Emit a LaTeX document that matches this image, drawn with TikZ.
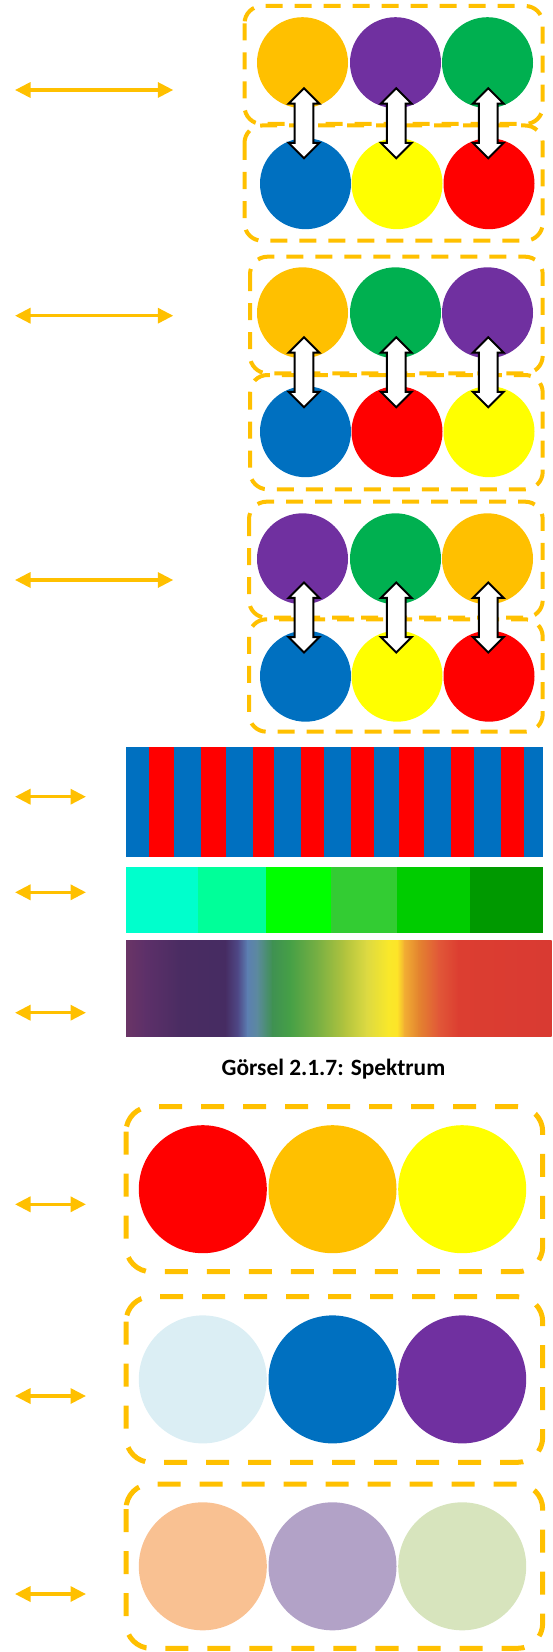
\documentclass[tikz,border=0pt]{standalone}
\usepackage{fontspec}
\newfontfamily\capfont{Carlito}
\usetikzlibrary{positioning,calc,shapes.arrows,arrows.meta}

\definecolor{cOrange}{HTML}{FFC000}
\definecolor{cPurple}{HTML}{7030A0}
\definecolor{cGreen}{HTML}{00B050}
\definecolor{cBlue}{HTML}{0070C0}
\definecolor{cYellow}{HTML}{FFFF00}
\definecolor{cRed}{HTML}{FF0000}
\definecolor{cIce}{HTML}{DBEEF4}
\definecolor{cPeach}{HTML}{F9C192}
\definecolor{cLilac}{HTML}{B2A2C7}
\definecolor{cSage}{HTML}{D7E4BD}
% green steps
\definecolor{gA}{HTML}{00FFCC}
\definecolor{gB}{HTML}{00FF99}
\definecolor{gC}{HTML}{00FF00}
\definecolor{gD}{HTML}{33CC33}
\definecolor{gE}{HTML}{00CC00}
\definecolor{gF}{HTML}{009900}
% spectrum stops
\definecolor{sp1}{HTML}{6A3566}
\definecolor{sp2}{HTML}{5D3069}
\definecolor{sp3}{HTML}{4A2C62}
\definecolor{sp4}{HTML}{462C62}
\definecolor{sp5}{HTML}{4F4A88}
\definecolor{sp6}{HTML}{5C7FB2}
\definecolor{sp7}{HTML}{5C8A9E}
\definecolor{sp8}{HTML}{3F9152}
\definecolor{sp9}{HTML}{46A046}
\definecolor{sp10}{HTML}{79B043}
\definecolor{sp11}{HTML}{B3C43E}
\definecolor{sp12}{HTML}{DCD942}
\definecolor{sp13}{HTML}{F9E82A}
\definecolor{sp14}{HTML}{FDE428}
\definecolor{sp15}{HTML}{F2AE33}
\definecolor{sp16}{HTML}{E4852F}
\definecolor{sp17}{HTML}{E15838}
\definecolor{sp18}{HTML}{DC3E31}
\definecolor{sp19}{HTML}{D93A32}

\tikzset{
  ball/.style={circle, fill=#1, draw=none, inner sep=0pt, minimum size=18.2mm},
  bigball/.style={circle, fill=#1, draw=none, inner sep=0pt, minimum size=25.6mm},
  swapbox/.style={draw=cOrange, line width=0.8mm, dash pattern=on 3.4mm off 2.4mm, rounded corners=3.5mm},
  setbox/.style={draw=cOrange, line width=1mm, dash pattern=on 4.6mm off 3.8mm, rounded corners=5mm},
  swaparrow/.style={double arrow, rotate=90, draw=black, fill=white, line width=0.4mm,
    inner xsep=0pt, inner ysep=1.67mm, minimum height=14mm, double arrow head extend=1.2mm},
  pairarrow/.style={cOrange, line width=0.66mm,
    {Triangle[length=3.1mm,width=3mm]}-{Triangle[length=3.1mm,width=3mm]}},
}

\begin{document}
\begin{tikzpicture}[x=0.2mm, y=-0.2mm]
    \useasboundingbox (0,0) rectangle (552,1652);

    % swapped pairs
    \foreach \g/\yt/\yb/\ba/\bm/\bn/\bb/\bl/\ta/\tb/\tc/\ua/\ub/\uc in {
      1/62.7/183.7/6/124/125.5/240.7/244.5/cOrange/cPurple/cGreen/cBlue/cYellow/cRed,
      2/312.8/431.7/256.7/373.3/375/489.3/250/cOrange/cGreen/cPurple/cBlue/cRed/cYellow,
      3/558.8/676.2/501.7/617.7/619.3/731.7/249/cPurple/cGreen/cOrange/cBlue/cYellow/cRed}{
      \draw[swapbox] (\bl,\ba) rectangle (542.7,\bm);
      \draw[swapbox] (\bl,\bn) rectangle (542.7,\bb);
      \node[ball=\ta] (t\g-1) at (302.5,\yt) {};
      \node[ball=\tb] (t\g-2) at (395.5,\yt) {};
      \node[ball=\tc] (t\g-3) at (487.5,\yt) {};
      \node[ball=\ua] (b\g-1) at (305.5,\yb) {};
      \node[ball=\ub] (b\g-2) at (397,\yb) {};
      \node[ball=\uc] (b\g-3) at (489,\yb) {};
      \foreach \k in {1,2,3}
        \node[swaparrow] (s\g-\k) at ($(t\g-\k)!0.5!(b\g-\k)$) {};
    }

    % long arrows
    \foreach \y [count=\i] in {90,315.7,580}{
      \coordinate (la\i) at (15,\y);
      \coordinate (lb\i) at (173.3,\y);
      \draw[pairarrow] (la\i) -- (lb\i);
    }
    % short arrows
    \foreach \y [count=\i] in {796.7,892.3,1012.7,1204.3,1396,1594}{
      \coordinate (sa\i) at (15,\y);
      \coordinate (sb\i) at (86,\y);
      \draw[pairarrow] (sa\i) -- (sb\i);
    }

    % stripes
    \fill[cBlue] (125.7,747.3) rectangle (543.3,857.3);
    \foreach \xa/\xb in {149/173.7,200.7/225.7,252.7/273.7,300.7/323.7,350.7/373.7,399/424,450.7/474,501/524}
      \fill[cRed] (\xa,747.3) rectangle (\xb,857.3);

    % green steps
    \foreach \xa/\xb/\cc in {125.7/198/gA,198/266/gB,266/331.3/gC,331.3/397.3/gD,397.3/470/gE,470/543.3/gF}
      \fill[\cc] (\xa,867.3) rectangle (\xb,932.7);

    % spectrum
    \foreach \xa/\xb/\ca/\cb in {126/145/sp1/sp2,145/180/sp2/sp3,180/225/sp3/sp4,225/238/sp4/sp5,
      238/247/sp5/sp6,247/257/sp6/sp7,257/272/sp7/sp8,272/290/sp8/sp9,290/318/sp9/sp10,
      318/345/sp10/sp11,345/366/sp11/sp12,366/388/sp12/sp13,388/397/sp13/sp14,397/404/sp14/sp15,
      404/418/sp15/sp16,418/438/sp16/sp17,438/458/sp17/sp18,458/551/sp18/sp19}
      \shade[left color=\ca, right color=\cb] (\xa,940) rectangle ($(\xb,1036.7)+(0.6,0)$);

    \node[font=\capfont\bfseries\fontsize{13.3}{16}\selectfont, anchor=base, inner sep=0pt]
      (caption) at (333.5,1075) {Görsel 2.1.7: Spektrum};

    % colour sets
    \foreach \g/\yc/\ba/\bb/\ca/\cb/\cc in {
      1/1189.2/1106.7/1271.7/cRed/cOrange/cYellow,
      2/1379.4/1296.7/1462.3/cIce/cBlue/cPurple,
      3/1566.3/1484/1648.3/cPeach/cLilac/cSage}{
      \draw[setbox] (126,\ba) rectangle (542.7,\bb);
      \node[bigball=\ca] (p\g-1) at (202.8,\yc) {};
      \node[bigball=\cb, right=0.2mm of p\g-1] (p\g-2) {};
      \node[bigball=\cc, right=0.2mm of p\g-2] (p\g-3) {};
    }
\end{tikzpicture}
\end{document}
